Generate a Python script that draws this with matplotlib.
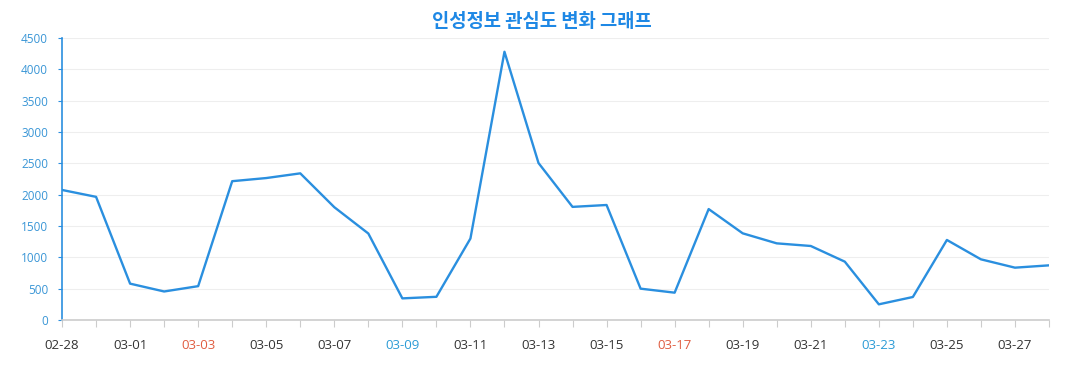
import matplotlib
matplotlib.use('Agg')
import matplotlib.pyplot as plt

plt.rcParams['font.family'] = ['Open Sans', 'Noto Sans CJK KR', 'DejaVu Sans']

dates = ['02-28', '02-29', '03-01', '03-02', '03-03', '03-04', '03-05', '03-06',
         '03-07', '03-08', '03-09', '03-10', '03-11', '03-12', '03-13', '03-14',
         '03-15', '03-16', '03-17', '03-18', '03-19', '03-20', '03-21', '03-22',
         '03-23', '03-24', '03-25', '03-26', '03-27', '03-28']
values = [2075, 1965, 580, 455, 540, 2215, 2265, 2340, 1800, 1380,
          345, 370, 1300, 4280, 2505, 1805, 1835, 500, 436, 1770,
          1383, 1223, 1181, 931, 250, 367, 1277, 968, 835, 872]
sundays = ['03-03', '03-17']
saturdays = ['03-09', '03-23']

line_color = '#2a8fdf'
fig = plt.figure(figsize=(10.77, 3.9), dpi=100)
ax = fig.add_axes([0.0576, 0.1795, 0.9164, 0.7231])
x = list(range(len(dates)))
ax.plot(x, values, color=line_color, lw=1.7)

ax.set_xlim(0, len(dates) - 1)
ax.set_ylim(0, 4500)
ax.set_yticks(range(0, 4501, 500))
ax.set_xticks(x)
ax.set_xticklabels([d if i % 2 == 0 else '' for i, d in enumerate(dates)], fontsize=9.5)
for lab, d in zip(ax.get_xticklabels(), dates):
    if d in sundays:
        lab.set_color('#e05c40')
    elif d in saturdays:
        lab.set_color('#2b9bd6')
    else:
        lab.set_color('#333333')

ax.tick_params(axis='x', length=5, color='#cccccc', pad=9)
ax.tick_params(axis='y', length=3, color='#2a8fdf', labelcolor='#3a96d6', labelsize=8.5, pad=7)
ax.grid(axis='y', color='#eeeeee', lw=0.8)
ax.set_axisbelow(True)
for s in ['top', 'right']:
    ax.spines[s].set_visible(False)
ax.spines['left'].set_color('#2a8fdf')
ax.spines['left'].set_linewidth(1.2)
ax.spines['bottom'].set_color('#cccccc')
ax.spines['bottom'].set_linewidth(1.2)

fig.text(0.503, 0.945, '인성정보 관심도 변화 그래프', ha='center', va='center',
         fontsize=13.5, fontweight='bold', color='#1e88e5',
         family=['Noto Sans CJK KR', 'DejaVu Sans'])

plt.savefig('out.png', dpi=100)
